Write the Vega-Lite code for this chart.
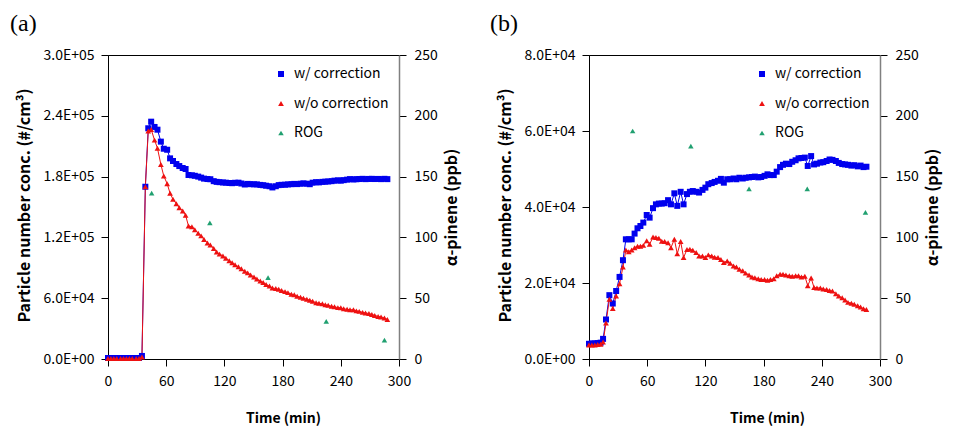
{
  "$schema": "https://vega.github.io/schema/vega-lite/v6.json",
  "padding": {"left": 9, "top": 11, "right": 5, "bottom": 5},
  "bounds": "flush",
  "spacing": 190,
  "config": {
    "view": {"stroke": "#000", "strokeWidth": 1},
    "font": "Noto Sans CJK KR",
    "axis": {"labelFont": "Noto Sans CJK KR", "labelFontSize": 14, "labelColor": "#000", "titleFont": "Noto Sans CJK KR", "titleFontSize": 14, "titleFontWeight": "bold", "titleColor": "#000", "grid": false, "tickColor": "#000", "domainColor": "#000", "tickSize": 7}
  },
  "datasets": {
    "A": [
      {"t":0,"s":"w/ correction","v":1000},{"t":3,"s":"w/ correction","v":1000},{"t":6,"s":"w/ correction","v":1000},{"t":9,"s":"w/ correction","v":1000},{"t":13,"s":"w/ correction","v":1000},{"t":16,"s":"w/ correction","v":1000},{"t":19,"s":"w/ correction","v":1000},{"t":22,"s":"w/ correction","v":1000},{"t":25,"s":"w/ correction","v":1000},{"t":29,"s":"w/ correction","v":1000},{"t":32,"s":"w/ correction","v":1000},{"t":35,"s":"w/ correction","v":3000},
      {"t":38.5,"s":"w/ correction","v":170000},{"t":41.5,"s":"w/ correction","v":227700},{"t":44.5,"s":"w/ correction","v":234200},{"t":48,"s":"w/ correction","v":229000},{"t":51,"s":"w/ correction","v":226300},{"t":54.5,"s":"w/ correction","v":214500},{"t":57.5,"s":"w/ correction","v":207500},{"t":61,"s":"w/ correction","v":206500},{"t":64,"s":"w/ correction","v":198000},{"t":67,"s":"w/ correction","v":195400},{"t":70.5,"s":"w/ correction","v":192400},{"t":73.5,"s":"w/ correction","v":190400},{"t":77,"s":"w/ correction","v":188500},{"t":80,"s":"w/ correction","v":187500},{"t":83,"s":"w/ correction","v":181600},{"t":86.5,"s":"w/ correction","v":181300},{"t":89.5,"s":"w/ correction","v":180800},{"t":93,"s":"w/ correction","v":180000},{"t":96,"s":"w/ correction","v":179000},{"t":99,"s":"w/ correction","v":178000},{"t":102.5,"s":"w/ correction","v":177600},{"t":105.5,"s":"w/ correction","v":177400},{"t":109,"s":"w/ correction","v":175500},{"t":112,"s":"w/ correction","v":174800},{"t":115,"s":"w/ correction","v":174500},{"t":118.5,"s":"w/ correction","v":174200},{"t":121.5,"s":"w/ correction","v":174000},{"t":125,"s":"w/ correction","v":173700},{"t":128,"s":"w/ correction","v":173500},{"t":131,"s":"w/ correction","v":173900},{"t":134.5,"s":"w/ correction","v":174000},{"t":137.5,"s":"w/ correction","v":173200},{"t":141,"s":"w/ correction","v":172200},{"t":144,"s":"w/ correction","v":172800},{"t":147,"s":"w/ correction","v":172500},{"t":150.5,"s":"w/ correction","v":172400},{"t":153.5,"s":"w/ correction","v":172300},{"t":157,"s":"w/ correction","v":171800},{"t":160,"s":"w/ correction","v":171500},{"t":163,"s":"w/ correction","v":171000},{"t":166.5,"s":"w/ correction","v":170500},{"t":169.5,"s":"w/ correction","v":169300},{"t":173,"s":"w/ correction","v":170500},{"t":176,"s":"w/ correction","v":171600},{"t":179,"s":"w/ correction","v":171900},{"t":182.5,"s":"w/ correction","v":172000},{"t":185.5,"s":"w/ correction","v":172300},{"t":189,"s":"w/ correction","v":172500},{"t":192,"s":"w/ correction","v":172800},{"t":195,"s":"w/ correction","v":172600},{"t":198.5,"s":"w/ correction","v":173000},{"t":201.5,"s":"w/ correction","v":173300},{"t":205,"s":"w/ correction","v":173000},{"t":208,"s":"w/ correction","v":172500},{"t":211,"s":"w/ correction","v":174000},{"t":214.5,"s":"w/ correction","v":174500},{"t":217.5,"s":"w/ correction","v":174300},{"t":221,"s":"w/ correction","v":174800},{"t":224,"s":"w/ correction","v":175000},{"t":227,"s":"w/ correction","v":175200},{"t":230.5,"s":"w/ correction","v":175500},{"t":233.5,"s":"w/ correction","v":176000},{"t":237,"s":"w/ correction","v":176300},{"t":240,"s":"w/ correction","v":176000},{"t":243,"s":"w/ correction","v":176500},{"t":246.5,"s":"w/ correction","v":177000},{"t":249.5,"s":"w/ correction","v":177500},{"t":253,"s":"w/ correction","v":177200},{"t":256,"s":"w/ correction","v":177400},{"t":259,"s":"w/ correction","v":177600},{"t":262.5,"s":"w/ correction","v":177800},{"t":265.5,"s":"w/ correction","v":177500},{"t":269,"s":"w/ correction","v":177700},{"t":272,"s":"w/ correction","v":177800},{"t":275,"s":"w/ correction","v":177600},{"t":278.5,"s":"w/ correction","v":177700},{"t":281.5,"s":"w/ correction","v":177500},{"t":285,"s":"w/ correction","v":177800},{"t":288,"s":"w/ correction","v":177500},
      {"t":0,"s":"w/o correction","v":500},{"t":3,"s":"w/o correction","v":500},{"t":6,"s":"w/o correction","v":500},{"t":9,"s":"w/o correction","v":500},{"t":13,"s":"w/o correction","v":500},{"t":16,"s":"w/o correction","v":500},{"t":19,"s":"w/o correction","v":500},{"t":22,"s":"w/o correction","v":500},{"t":25,"s":"w/o correction","v":500},{"t":29,"s":"w/o correction","v":500},{"t":32,"s":"w/o correction","v":500},{"t":35,"s":"w/o correction","v":2000},
      {"t":38.5,"s":"w/o correction","v":170000},{"t":41.5,"s":"w/o correction","v":225000},{"t":44.5,"s":"w/o correction","v":226500},{"t":48,"s":"w/o correction","v":216000},{"t":51,"s":"w/o correction","v":208000},{"t":54.5,"s":"w/o correction","v":192000},{"t":57.5,"s":"w/o correction","v":180600},{"t":61,"s":"w/o correction","v":173000},{"t":64,"s":"w/o correction","v":163500},{"t":67,"s":"w/o correction","v":157600},{"t":70.5,"s":"w/o correction","v":153200},{"t":73.5,"s":"w/o correction","v":149300},{"t":77,"s":"w/o correction","v":146000},{"t":80,"s":"w/o correction","v":141800},{"t":83,"s":"w/o correction","v":131200},{"t":86.5,"s":"w/o correction","v":130500},{"t":89.5,"s":"w/o correction","v":127500},{"t":93,"s":"w/o correction","v":124200},{"t":96,"s":"w/o correction","v":121500},{"t":99,"s":"w/o correction","v":118000},{"t":102.5,"s":"w/o correction","v":114500},{"t":105.5,"s":"w/o correction","v":112500},{"t":109,"s":"w/o correction","v":109000},{"t":112,"s":"w/o correction","v":105500},{"t":115,"s":"w/o correction","v":103500},{"t":118.5,"s":"w/o correction","v":101700},{"t":121.5,"s":"w/o correction","v":99500},{"t":125,"s":"w/o correction","v":97000},{"t":128,"s":"w/o correction","v":95000},{"t":131,"s":"w/o correction","v":93000},{"t":134.5,"s":"w/o correction","v":91000},{"t":137.5,"s":"w/o correction","v":89000},{"t":141,"s":"w/o correction","v":86500},{"t":144,"s":"w/o correction","v":85000},{"t":147,"s":"w/o correction","v":83000},{"t":150.5,"s":"w/o correction","v":81000},{"t":153.5,"s":"w/o correction","v":79000},{"t":157,"s":"w/o correction","v":77000},{"t":160,"s":"w/o correction","v":75500},{"t":163,"s":"w/o correction","v":73500},{"t":166.5,"s":"w/o correction","v":72000},{"t":169.5,"s":"w/o correction","v":70000},{"t":173,"s":"w/o correction","v":69500},{"t":176,"s":"w/o correction","v":68800},{"t":179,"s":"w/o correction","v":67500},{"t":182.5,"s":"w/o correction","v":66500},{"t":185.5,"s":"w/o correction","v":65500},{"t":189,"s":"w/o correction","v":64000},{"t":192,"s":"w/o correction","v":63500},{"t":195,"s":"w/o correction","v":62000},{"t":198.5,"s":"w/o correction","v":61000},{"t":201.5,"s":"w/o correction","v":60000},{"t":205,"s":"w/o correction","v":59000},{"t":208,"s":"w/o correction","v":58000},{"t":211,"s":"w/o correction","v":57000},{"t":214.5,"s":"w/o correction","v":55500},{"t":217.5,"s":"w/o correction","v":55000},{"t":221,"s":"w/o correction","v":54500},{"t":224,"s":"w/o correction","v":53500},{"t":227,"s":"w/o correction","v":53000},{"t":230.5,"s":"w/o correction","v":52000},{"t":233.5,"s":"w/o correction","v":51500},{"t":237,"s":"w/o correction","v":50700},{"t":240,"s":"w/o correction","v":50500},{"t":243,"s":"w/o correction","v":49500},{"t":246.5,"s":"w/o correction","v":49000},{"t":249.5,"s":"w/o correction","v":48700},{"t":253,"s":"w/o correction","v":48500},{"t":256,"s":"w/o correction","v":47500},{"t":259,"s":"w/o correction","v":47000},{"t":262.5,"s":"w/o correction","v":46000},{"t":265.5,"s":"w/o correction","v":45500},{"t":269,"s":"w/o correction","v":44800},{"t":272,"s":"w/o correction","v":44000},{"t":275,"s":"w/o correction","v":43000},{"t":278.5,"s":"w/o correction","v":42000},{"t":281.5,"s":"w/o correction","v":41500},{"t":285,"s":"w/o correction","v":40500},{"t":288,"s":"w/o correction","v":39000}
    ],
    "B": [
      {"t":0,"s":"w/ correction","v":4000},{"t":3,"s":"w/ correction","v":4100},{"t":6,"s":"w/ correction","v":4100},{"t":9,"s":"w/ correction","v":4200},{"t":12,"s":"w/ correction","v":4300},{"t":14.5,"s":"w/ correction","v":5300},{"t":17.5,"s":"w/ correction","v":10400},{"t":21,"s":"w/ correction","v":16800},{"t":24.5,"s":"w/ correction","v":14600},{"t":28,"s":"w/ correction","v":17900},{"t":31.5,"s":"w/ correction","v":21600},{"t":35,"s":"w/ correction","v":26000},{"t":38,"s":"w/ correction","v":31500},{"t":41,"s":"w/ correction","v":31500},{"t":44,"s":"w/ correction","v":31500},{"t":47,"s":"w/ correction","v":33000},{"t":50,"s":"w/ correction","v":34400},{"t":53,"s":"w/ correction","v":35000},{"t":56,"s":"w/ correction","v":35900},{"t":59.5,"s":"w/ correction","v":37900},{"t":62.5,"s":"w/ correction","v":37200},{"t":66,"s":"w/ correction","v":39700},{"t":69,"s":"w/ correction","v":40700},{"t":72,"s":"w/ correction","v":40900},{"t":75,"s":"w/ correction","v":40900},{"t":78,"s":"w/ correction","v":41000},{"t":81.5,"s":"w/ correction","v":41800},{"t":84.5,"s":"w/ correction","v":40700},{"t":88,"s":"w/ correction","v":43600},{"t":91,"s":"w/ correction","v":40300},{"t":94.5,"s":"w/ correction","v":44000},{"t":97.5,"s":"w/ correction","v":40700},{"t":101,"s":"w/ correction","v":43400},{"t":104,"s":"w/ correction","v":44000},{"t":107,"s":"w/ correction","v":44200},{"t":110.5,"s":"w/ correction","v":44000},{"t":113.5,"s":"w/ correction","v":43800},{"t":117,"s":"w/ correction","v":44500},{"t":120,"s":"w/ correction","v":45100},{"t":123,"s":"w/ correction","v":46000},{"t":126.5,"s":"w/ correction","v":46300},{"t":129.5,"s":"w/ correction","v":46600},{"t":133,"s":"w/ correction","v":46900},{"t":136,"s":"w/ correction","v":47400},{"t":139,"s":"w/ correction","v":46400},{"t":142.5,"s":"w/ correction","v":47300},{"t":145.5,"s":"w/ correction","v":47300},{"t":149,"s":"w/ correction","v":47500},{"t":152,"s":"w/ correction","v":47300},{"t":155,"s":"w/ correction","v":47700},{"t":158.5,"s":"w/ correction","v":47500},{"t":161.5,"s":"w/ correction","v":47700},{"t":165,"s":"w/ correction","v":47800},{"t":168,"s":"w/ correction","v":47900},{"t":171,"s":"w/ correction","v":48000},{"t":174.5,"s":"w/ correction","v":47800},{"t":177.5,"s":"w/ correction","v":47900},{"t":181,"s":"w/ correction","v":48200},{"t":184,"s":"w/ correction","v":48600},{"t":187,"s":"w/ correction","v":48400},{"t":190.5,"s":"w/ correction","v":48400},{"t":193.5,"s":"w/ correction","v":49300},{"t":197,"s":"w/ correction","v":50500},{"t":200,"s":"w/ correction","v":51100},{"t":203,"s":"w/ correction","v":51400},{"t":206.5,"s":"w/ correction","v":51300},{"t":209.5,"s":"w/ correction","v":51900},{"t":213,"s":"w/ correction","v":52300},{"t":216,"s":"w/ correction","v":52800},{"t":219,"s":"w/ correction","v":52900},{"t":222.5,"s":"w/ correction","v":53000},{"t":225.5,"s":"w/ correction","v":50800},{"t":229,"s":"w/ correction","v":53400},{"t":232,"s":"w/ correction","v":51200},{"t":235,"s":"w/ correction","v":51400},{"t":238.5,"s":"w/ correction","v":51700},{"t":241.5,"s":"w/ correction","v":51800},{"t":245,"s":"w/ correction","v":52100},{"t":248,"s":"w/ correction","v":52500},{"t":251,"s":"w/ correction","v":52400},{"t":254.5,"s":"w/ correction","v":52100},{"t":257.5,"s":"w/ correction","v":51600},{"t":261,"s":"w/ correction","v":51300},{"t":264,"s":"w/ correction","v":51200},{"t":267,"s":"w/ correction","v":51100},{"t":270.5,"s":"w/ correction","v":50900},{"t":273.5,"s":"w/ correction","v":51000},{"t":277,"s":"w/ correction","v":50700},{"t":280,"s":"w/ correction","v":50900},{"t":283,"s":"w/ correction","v":50500},{"t":286,"s":"w/ correction","v":50600},
      {"t":0,"s":"w/o correction","v":3700},{"t":3,"s":"w/o correction","v":3700},{"t":6,"s":"w/o correction","v":3700},{"t":9,"s":"w/o correction","v":3800},{"t":12,"s":"w/o correction","v":3900},{"t":14.5,"s":"w/o correction","v":4500},{"t":17.5,"s":"w/o correction","v":9500},{"t":21,"s":"w/o correction","v":15700},{"t":24.5,"s":"w/o correction","v":13300},{"t":28,"s":"w/o correction","v":16600},{"t":31.5,"s":"w/o correction","v":19800},{"t":35,"s":"w/o correction","v":24200},{"t":38,"s":"w/o correction","v":28700},{"t":41,"s":"w/o correction","v":28200},{"t":44,"s":"w/o correction","v":28700},{"t":47,"s":"w/o correction","v":29300},{"t":50,"s":"w/o correction","v":29700},{"t":53,"s":"w/o correction","v":29700},{"t":56,"s":"w/o correction","v":29900},{"t":59.5,"s":"w/o correction","v":31100},{"t":62.5,"s":"w/o correction","v":30200},{"t":66,"s":"w/o correction","v":32100},{"t":69,"s":"w/o correction","v":32000},{"t":72,"s":"w/o correction","v":31800},{"t":75,"s":"w/o correction","v":31000},{"t":78,"s":"w/o correction","v":30900},{"t":81.5,"s":"w/o correction","v":30600},{"t":84.5,"s":"w/o correction","v":29300},{"t":88,"s":"w/o correction","v":31500},{"t":91,"s":"w/o correction","v":27700},{"t":94.5,"s":"w/o correction","v":30900},{"t":97.5,"s":"w/o correction","v":26700},{"t":101,"s":"w/o correction","v":28800},{"t":104,"s":"w/o correction","v":28900},{"t":107,"s":"w/o correction","v":28600},{"t":110.5,"s":"w/o correction","v":28000},{"t":113.5,"s":"w/o correction","v":27100},{"t":117,"s":"w/o correction","v":27100},{"t":120,"s":"w/o correction","v":26700},{"t":123,"s":"w/o correction","v":27400},{"t":126.5,"s":"w/o correction","v":27100},{"t":129.5,"s":"w/o correction","v":26800},{"t":133,"s":"w/o correction","v":26700},{"t":136,"s":"w/o correction","v":26200},{"t":139,"s":"w/o correction","v":25400},{"t":142.5,"s":"w/o correction","v":25800},{"t":145.5,"s":"w/o correction","v":25200},{"t":149,"s":"w/o correction","v":24500},{"t":152,"s":"w/o correction","v":24200},{"t":155,"s":"w/o correction","v":23600},{"t":158.5,"s":"w/o correction","v":23200},{"t":161.5,"s":"w/o correction","v":22600},{"t":165,"s":"w/o correction","v":22100},{"t":168,"s":"w/o correction","v":21600},{"t":171,"s":"w/o correction","v":21400},{"t":174.5,"s":"w/o correction","v":21100},{"t":177.5,"s":"w/o correction","v":20950},{"t":181,"s":"w/o correction","v":20900},{"t":184,"s":"w/o correction","v":20700},{"t":187,"s":"w/o correction","v":20900},{"t":190.5,"s":"w/o correction","v":21100},{"t":193.5,"s":"w/o correction","v":21900},{"t":197,"s":"w/o correction","v":22300},{"t":200,"s":"w/o correction","v":22300},{"t":203,"s":"w/o correction","v":22100},{"t":206.5,"s":"w/o correction","v":21900},{"t":209.5,"s":"w/o correction","v":21800},{"t":213,"s":"w/o correction","v":21900},{"t":216,"s":"w/o correction","v":21900},{"t":219,"s":"w/o correction","v":21600},{"t":222.5,"s":"w/o correction","v":21800},{"t":225.5,"s":"w/o correction","v":19300},{"t":229,"s":"w/o correction","v":21300},{"t":232,"s":"w/o correction","v":18800},{"t":235,"s":"w/o correction","v":18700},{"t":238.5,"s":"w/o correction","v":18700},{"t":241.5,"s":"w/o correction","v":18400},{"t":245,"s":"w/o correction","v":18300},{"t":248,"s":"w/o correction","v":18000},{"t":251,"s":"w/o correction","v":17900},{"t":254.5,"s":"w/o correction","v":17200},{"t":257.5,"s":"w/o correction","v":16600},{"t":261,"s":"w/o correction","v":16100},{"t":264,"s":"w/o correction","v":15500},{"t":267,"s":"w/o correction","v":14900},{"t":270.5,"s":"w/o correction","v":14700},{"t":273.5,"s":"w/o correction","v":14400},{"t":277,"s":"w/o correction","v":14000},{"t":280,"s":"w/o correction","v":13700},{"t":283,"s":"w/o correction","v":13200},{"t":286,"s":"w/o correction","v":13000}
    ],
    "RA": [
      {"t":45,"s":"ROG","v":136.5},{"t":105,"s":"ROG","v":112},{"t":165,"s":"ROG","v":67},{"t":225,"s":"ROG","v":31},{"t":285,"s":"ROG","v":15.5}
    ],
    "RB": [
      {"t":45,"s":"ROG","v":187.5},{"t":105,"s":"ROG","v":175},{"t":165,"s":"ROG","v":140},{"t":225,"s":"ROG","v":140},{"t":285,"s":"ROG","v":120.5}
    ]
  },
  "hconcat": [
    {
      "width": 291, "height": 304,
      "title": {"text": "(a)", "anchor": "start", "frame": "group", "dx": -98, "font": "Liberation Serif", "fontSize": 24, "fontWeight": "normal", "color": "#000", "offset": 12},
      "layer": [
        {
          "data": {"name": "A"},
          "layer": [
            {
              "mark": {"type": "line", "strokeWidth": 1},
              "encoding": {
                "x": {"field": "t", "type": "quantitative", "scale": {"domain": [0, 300], "nice": false}, "axis": {"values": [0, 60, 120, 180, 240, 300], "title": "Time (min)", "titleX": 175, "titleY": 59, "titleBaseline": "middle", "labelPadding": 8, "labelFlush": false}},
                "y": {"field": "v", "type": "quantitative", "scale": {"domain": [0, 300000], "nice": false}, "axis": {"values": [0, 60000, 120000, 180000, 240000, 300000], "labelExpr": "replace(upper(format(datum.value, '.1e')), 'E+', 'E+0')", "title": "Particle number conc. (#/cm³)", "titleFontSize": 16, "titleX": -84, "titleY": 150, "titleAngle": 270, "titleBaseline": "middle", "titleAlign": "center", "labelPadding": 7}},
                "stroke": {"field": "s", "type": "nominal", "legend": null, "scale": {"domain": ["w/ correction", "w/o correction"], "range": ["#0000EE", "#EE1111"]}}
              }
            },
            {
              "mark": {"type": "point", "filled": true, "opacity": 1},
              "encoding": {
                "x": {"field": "t", "type": "quantitative"},
                "y": {"field": "v", "type": "quantitative"},
                "color": {"field": "s", "type": "nominal", "scale": {"domain": ["w/ correction", "w/o correction", "ROG"], "range": ["#0000EE", "#EE1111", "#20A070"]}, "legend": {"orient": "none", "legendX": 166, "legendY": 12, "title": null, "labelFontSize": 14, "labelFont": "Noto Sans CJK KR", "labelColor": "#000", "rowPadding": 15.5, "labelOffset": 6, "symbolSize": 40}},
                "shape": {"field": "s", "type": "nominal", "scale": {"domain": ["w/ correction", "w/o correction", "ROG"], "range": ["square", "triangle-up", "triangle-up"]}, "legend": {"orient": "none", "legendX": 166, "legendY": 12, "title": null, "labelFontSize": 14, "labelFont": "Noto Sans CJK KR", "labelColor": "#000", "rowPadding": 15.5, "labelOffset": 6, "symbolSize": 40}},
                "size": {"field": "s", "type": "nominal", "legend": null, "scale": {"domain": ["w/ correction", "w/o correction", "ROG"], "range": [36, 30, 40]}}
              }
            }
          ]
        },
        {
          "data": {"name": "RA"},
          "mark": {"type": "point", "filled": true, "opacity": 1},
          "encoding": {
            "x": {"field": "t", "type": "quantitative"},
            "y": {"field": "v", "type": "quantitative", "scale": {"domain": [0, 250], "nice": false}, "axis": {"orient": "right", "values": [0, 50, 100, 150, 200, 250], "title": "α-pinene (ppb)", "titleFontSize": 16, "titleX": 52, "titleY": 152, "titleAngle": 270, "titleBaseline": "middle", "titleAlign": "center", "domainColor": "#808080", "domainWidth": 1.5, "labelPadding": 8}},
            "color": {"field": "s", "type": "nominal"},
            "shape": {"field": "s", "type": "nominal"},
            "size": {"field": "s", "type": "nominal", "legend": null}
          }
        }
      ],
      "resolve": {"scale": {"y": "independent"}}
    },
    {
      "width": 291, "height": 304,
      "title": {"text": "(b)", "anchor": "start", "frame": "group", "dx": -99, "font": "Liberation Serif", "fontSize": 24, "fontWeight": "normal", "color": "#000", "offset": 12},
      "layer": [
        {
          "data": {"name": "B"},
          "layer": [
            {
              "mark": {"type": "line", "strokeWidth": 1},
              "encoding": {
                "x": {"field": "t", "type": "quantitative", "scale": {"domain": [0, 300], "nice": false}, "axis": {"values": [0, 60, 120, 180, 240, 300], "title": "Time (min)", "titleX": 178, "titleY": 59, "titleBaseline": "middle", "labelPadding": 8, "labelFlush": false}},
                "y": {"field": "v", "type": "quantitative", "scale": {"domain": [0, 80000], "nice": false}, "axis": {"values": [0, 20000, 40000, 60000, 80000], "labelExpr": "replace(upper(format(datum.value, '.1e')), 'E+', 'E+0')", "title": "Particle number conc. (#/cm³)", "titleFontSize": 16, "titleX": -84, "titleY": 150, "titleAngle": 270, "titleBaseline": "middle", "titleAlign": "center", "labelPadding": 7}},
                "stroke": {"field": "s", "type": "nominal", "legend": null, "scale": {"domain": ["w/ correction", "w/o correction"], "range": ["#0000EE", "#EE1111"]}}
              }
            },
            {
              "mark": {"type": "point", "filled": true, "opacity": 1},
              "encoding": {
                "x": {"field": "t", "type": "quantitative"},
                "y": {"field": "v", "type": "quantitative"},
                "color": {"field": "s", "type": "nominal", "scale": {"domain": ["w/ correction", "w/o correction", "ROG"], "range": ["#0000EE", "#EE1111", "#20A070"]}, "legend": {"orient": "none", "legendX": 166, "legendY": 12, "title": null, "labelFontSize": 14, "labelFont": "Noto Sans CJK KR", "labelColor": "#000", "rowPadding": 15.5, "labelOffset": 6, "symbolSize": 40}},
                "shape": {"field": "s", "type": "nominal", "scale": {"domain": ["w/ correction", "w/o correction", "ROG"], "range": ["square", "triangle-up", "triangle-up"]}, "legend": {"orient": "none", "legendX": 166, "legendY": 12, "title": null, "labelFontSize": 14, "labelFont": "Noto Sans CJK KR", "labelColor": "#000", "rowPadding": 15.5, "labelOffset": 6, "symbolSize": 40}},
                "size": {"field": "s", "type": "nominal", "legend": null, "scale": {"domain": ["w/ correction", "w/o correction", "ROG"], "range": [36, 30, 40]}}
              }
            }
          ]
        },
        {
          "data": {"name": "RB"},
          "mark": {"type": "point", "filled": true, "opacity": 1},
          "encoding": {
            "x": {"field": "t", "type": "quantitative"},
            "y": {"field": "v", "type": "quantitative", "scale": {"domain": [0, 250], "nice": false}, "axis": {"orient": "right", "values": [0, 50, 100, 150, 200, 250], "title": "α-pinene (ppb)", "titleFontSize": 16, "titleX": 52, "titleY": 152, "titleAngle": 270, "titleBaseline": "middle", "titleAlign": "center", "domainColor": "#808080", "domainWidth": 1.5, "labelPadding": 8}},
            "color": {"field": "s", "type": "nominal"},
            "shape": {"field": "s", "type": "nominal"},
            "size": {"field": "s", "type": "nominal", "legend": null}
          }
        }
      ],
      "resolve": {"scale": {"y": "independent"}}
    }
  ],
  "resolve": {"scale": {"color": "independent", "shape": "independent", "size": "independent", "stroke": "independent"}}
}
